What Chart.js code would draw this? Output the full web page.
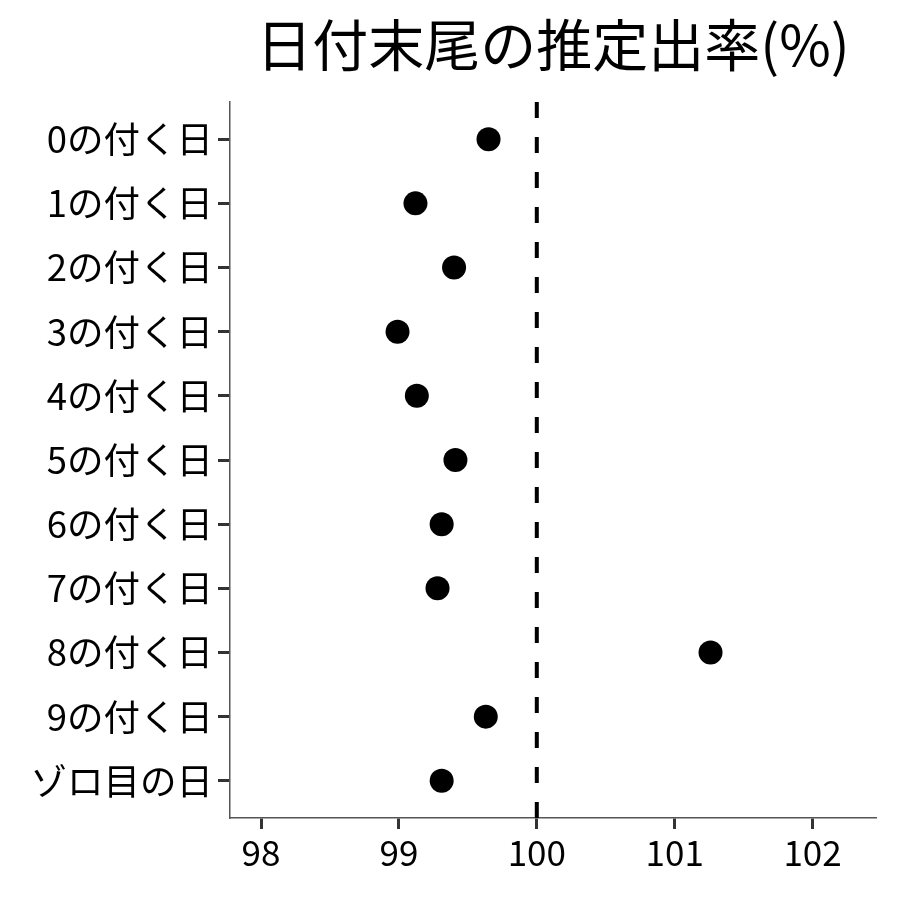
<!DOCTYPE html>
<html>
<head>
<meta charset="utf-8">
<script src="https://cdn.jsdelivr.net/npm/chart.js@4/dist/chart.umd.min.js"></script>
<style>
  html, body { margin: 0; padding: 0; background: #fff; }
  #wrap { width: 900px; height: 900px; }
</style>
</head>
<body>
<div id="wrap"><canvas id="chart" width="900" height="900"></canvas></div>
<script>
const titleText = '日付末尾の推定出率(%)';
const categories = ['0の付く日', '1の付く日', '2の付く日', '3の付く日', '4の付く日', '5の付く日',
  '6の付く日', '7の付く日', '8の付く日', '9の付く日', 'ゾロ目の日'];
const rates = [99.65, 99.12, 99.40, 98.99, 99.13, 99.41, 99.31, 99.28, 101.26, 99.63, 99.31];
const xTicks = [98, 99, 100, 101, 102];
const refValue = 100;

const FONT = '"Noto Sans CJK JP", "Noto Sans", sans-serif';

// dashed reference line + title centred over the plot area
const extras = {
  id: 'extras',
  beforeDatasetsDraw(chart) {
    const { ctx, chartArea, scales } = chart;
    const x = scales.x.getPixelForValue(refValue);
    ctx.save();
    ctx.strokeStyle = '#000';
    ctx.lineWidth = 4;
    ctx.setLineDash([16, 19]);
    ctx.beginPath();
    ctx.moveTo(x, chartArea.top);
    ctx.lineTo(x, chartArea.bottom);
    ctx.stroke();
    ctx.restore();
  },
  afterDraw(chart) {
    const { ctx, chartArea } = chart;
    ctx.save();
    ctx.fillStyle = '#000';
    ctx.font = '56px ' + FONT;
    ctx.textAlign = 'center';
    ctx.textBaseline = 'middle';
    ctx.fillText(titleText, (chartArea.left + chartArea.right) / 2, 45);
    ctx.restore();
  }
};

new Chart(document.getElementById('chart'), {
  type: 'scatter',
  data: {
    datasets: [{
      data: rates.map((v, i) => ({ x: v, y: i })),
      backgroundColor: '#000',
      borderWidth: 0,
      pointRadius: 12,
      pointHoverRadius: 12
    }]
  },
  options: {
    responsive: false,
    animation: false,
    layout: { padding: { top: 102, right: 24, left: 0, bottom: 0 } },
    plugins: { legend: { display: false }, tooltip: { enabled: false } },
    scales: {
      x: {
        type: 'linear',
        min: 97.775,
        max: 102.46,
        afterBuildTicks: s => { s.ticks = xTicks.map(v => ({ value: v })); },
        afterFit: s => { s.height = 82; },
        grid: { drawOnChartArea: false, drawTicks: true, tickLength: 11, tickColor: '#333', tickWidth: 3 },
        border: { display: true, color: '#555', width: 1.5 },
        ticks: { color: '#000', font: { family: FONT, size: 35 }, padding: 3, maxRotation: 0 }
      },
      y: {
        type: 'linear',
        reverse: true,
        min: -0.58,
        max: 10.58,
        afterBuildTicks: s => { s.ticks = categories.map((c, i) => ({ value: i })); },
        afterFit: s => { s.width = 230; },
        grid: { drawOnChartArea: false, drawTicks: true, tickLength: 12, tickColor: '#333', tickWidth: 3 },
        border: { display: true, color: '#555', width: 1.5 },
        ticks: {
          color: '#000',
          font: { family: FONT, size: 36.5 },
          padding: 5,
          callback: v => categories[v]
        }
      }
    }
  },
  plugins: [extras]
});
</script>
</body>
</html>
